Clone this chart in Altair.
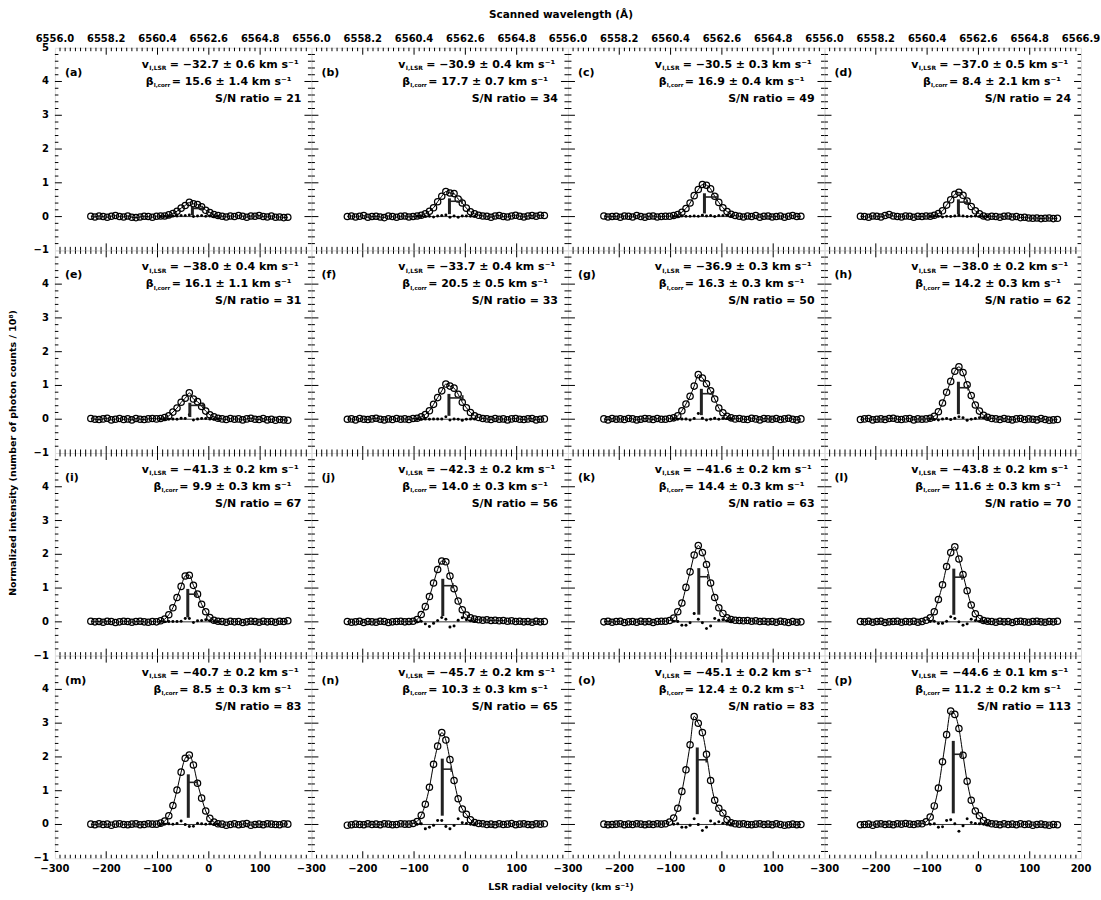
import altair as alt
import pandas as pd

FONT = "DejaVu Sans"

# ---------------- data ----------------
LETTERS = list("abcdefghijklmnop")

VEL = [-230, -222, -214, -206, -198, -190, -182, -174, -166, -158, -150, -142, -134, -126, -118,
       -110, -102, -94, -86, -78, -70, -62, -54, -46, -38, -30, -22, -14, -6, 2, 10, 18, 26, 34,
       42, 50, 58, 66, 74, 82, 90, 98, 106, 114, 122, 130, 138, 146, 154]

I_A = [.01, -.01, .02, 0, -.02, .01, .03, 0, -.01, .02, -.02, -.03, -.01, .01, 0, -.02, .01, .02,
       .02, .05, .09, .16, .25, .33, .42, .38, .36, .29, .19, .12, .06, .03,
       .01, -.01, .02, 0, .03, .01, -.02, .02, .01, .03, 0, -.01, .02, -.02, -.01, -.03, -.02]
I_B = [0, .02, -.01, .01, .03, -.02, 0, .01, -.01, -.03, .02, 0, -.02, .01, .02, -.01, 0,
       .02, .04, .08, .16, .26, .44, .60, .74, .70, .68, .52, .40, .25, .14, .08, .04, .02,
       .01, -.02, .02, .03, 0, -.01, .02, .04, .01, -.01, .02, .03, .01, .04, .03]
I_C = [.02, -.01, 0, .01, -.02, .02, .01, -.01, .03, 0, -.02, .01, .02, -.01, 0, .01,
       .01, .03, .06, .13, .24, .40, .62, .80, .95, .93, .82, .60, .42, .26, .15, .07, .03,
       .01, -.01, .02, 0, .03, -.02, .01, .02, -.01, 0, .02, -.02, .01, .03, 0, .01]
I_D = [.01, 0, -.02, .02, .01, -.01, .03, .06, .02, 0, -.01, .02, .01, -.02, .01, 0, .02,
       .01, .04, .09, .17, .34, .50, .66, .72, .63, .46, .30, .17, .08, .02, -.01,
       .01, 0, -.02, .01, .02, -.01, 0, -.03, -.02, -.04, -.05, -.04, -.06, -.05, -.04, -.06, -.05]
I_E = [.02, 0, -.01, .01, .03, -.02, 0, .02, -.01, .01, -.02, .02, 0, -.01, .01, .02,
       .01, .02, .05, .10, .21, .33, .50, .62, .78, .60, .52, .38, .24, .13, .07, .03, .01,
       -.01, .02, 0, .01, -.02, .01, .03, 0, -.01, .02, -.02, 0, -.03, -.01, -.02, -.03]
I_F = [0, .01, -.02, .02, 0, -.01, .01, .03, 0, -.02, .01, -.01, .02, 0, .01, -.01,
       .02, .03, .07, .14, .25, .44, .64, .84, 1.04, .98, .92, .74, .50, .34, .20, .10, .05, .02,
       .01, -.01, .02, 0, .01, -.02, .01, .02, 0, -.01, .01, .02, -.02, 0, .01]
I_G = [.01, -.02, .02, 0, .01, -.01, .02, .01, -.02, 0, .02, .01, -.01, .02, 0,
       0, .02, .04, .10, .25, .45, .68, .98, 1.32, 1.22, 1.05, .84, .60, .33, .19, .09, .04, .01,
       .02, 0, -.01, .03, .01, -.02, .02, .01, 0, .02, -.01, .01, .03, 0, -.02, .01]
I_H = [-.01, .01, .02, -.02, 0, .01, -.01, .02, .03, 0, -.01, .01, .02, -.02, .01, 0,
       .01, .03, .09, .22, .48, .80, 1.12, 1.42, 1.55, 1.38, 1.02, .70, .42, .24, .12, .06, .02,
       .01, -.01, .02, 0, -.02, .01, .02, -.01, .01, 0, -.02, .02, -.01, -.03, -.02, -.01]
I_I = [.02, 0, .01, -.01, .02, .01, -.02, 0, .02, .01, -.01, .01, .02, 0, -.01, .01,
       0, .03, .08, .21, .42, .72, 1.05, 1.36, 1.38, 1.08, .82, .52, .30, .13, .05, .02,
       .01, -.01, .02, 0, .01, -.02, 0, .02, .01, -.01, .02, 0, .01, -.01, .02, .01, .03]
I_J = [.01, -.01, 0, .02, -.02, .01, 0, -.01, .02, .01, -.02, 0, .01, .02, 0,
       .01, .02, .07, .22, .45, .75, 1.15, 1.55, 1.80, 1.78, 1.36, .98, .62, .36, .20, .12, .08, .06, .05, .06, .04,
       .05, .03, .04, .02, .03, .01, .02, 0, .01, -.01, .02, 0, .01]
I_K = [0, .02, -.01, .01, .02, -.02, 0, .01, -.01, .02, 0, .01, -.02, .01, .02,
       .02, .04, .11, .30, .56, 1.02, 1.48, 1.98, 2.26, 2.05, 1.70, 1.15, .72, .42, .25, .12, .07, .05, .04,
       .03, .04, .02, .03, .01, .02, 0, .01, -.01, .02, 0, -.02, .01, -.01, 0]
I_L = [.01, 0, .02, -.01, .01, .02, -.02, 0, .01, .02, -.01, .01, 0, .02, -.01,
       .01, .05, .12, .30, .66, 1.10, 1.64, 2.05, 2.22, 1.86, 1.40, .92, .50, .24, .10, .04,
       .02, .01, -.01, .02, 0, .01, -.02, .01, .02, 0, -.01, .01, .02, 0, -.01, .01, 0, .02]
I_M = [.01, -.01, .02, 0, .01, -.02, .01, .02, 0, -.01, .01, .02, -.01, 0, .02, .01,
       .01, .04, .10, .26, .56, 1.02, 1.55, 1.96, 2.06, 1.76, 1.22, .78, .40, .18, .07, .02,
       .01, -.02, 0, .02, -.01, .01, .03, -.02, 0, .01, -.01, .02, .01, 0, -.01, .02, .01]
I_N = [-.02, -.01, .01, 0, -.01, .02, 0, .01, -.01, .02, .01, -.01, 0, .02, .01,
       .01, .03, .09, .27, .60, 1.10, 1.78, 2.32, 2.72, 2.50, 1.92, 1.30, .76, .46, .30, .14, .06, .03,
       .02, 0, .01, -.01, .02, 0, .01, .03, -.01, .01, .02, 0, -.01, .02, .01, .02]
I_O = [.01, -.01, 0, .01, .02, -.01, .01, 0, .02, .01, -.01, .01, 0, .02, .01,
       .02, .07, .19, .48, .98, 1.62, 2.36, 3.20, 3.00, 2.72, 2.08, 1.30, .72, .48, .34, .15, .05, .02,
       .01, .02, 0, -.01, .01, .02, 0, .01, -.01, .02, 0, -.02, -.01, .01, -.01, 0]
I_P = [-.01, 0, .01, -.02, .01, .02, 0, .01, -.01, .02, .01, .03, .01, 0, .02,
       .02, .08, .22, .55, 1.08, 1.86, 2.66, 3.36, 3.26, 2.84, 2.05, 1.28, .72, .40, .26, .12, .05,
       .02, .01, -.01, .02, 0, .01, -.01, .02, 0, .01, -.02, 0, .01, -.01, -.02, 0, -.01]
INTENS = [I_A, I_B, I_C, I_D, I_E, I_F, I_G, I_H, I_I, I_J, I_K, I_L, I_M, I_N, I_O, I_P]

RES_VEL = [-94, -86, -78, -70, -62, -54, -46, -38, -30, -22, -14, -6, 2, 10, 18]
R_A = [0, .01, .01, .02, .02, .03, .03, .05, 0, .02, .03, .01, .02, .01, 0]
R_B = [.01, 0, .01, .01, -.01, .02, .03, .05, -.02, .02, -.02, .02, .02, .01, .01]
R_C = [0, .01, .02, .01, .01, .02, .01, .04, .02, .03, 0, .03, .03, .04, .02]
R_D = [0, .01, .01, -.01, .01, 0, .02, .04, .02, 0, .01, .02, .01, -.01, 0]
R_E = [.01, 0, 0, .01, 0, .03, .02, .13, -.02, .01, .02, .02, .01, .01, 0]
R_F = [0, .01, .01, 0, .01, .01, .01, .07, -.02, .01, 0, -.03, 0, .01, .01]
R_G = [.01, 0, .01, .01, -.02, .02, .17, .03, -.02, 0, .03, 0, .02, .02, .01]
R_H = [0, -.01, -.02, .01, .02, -.01, .03, .07, .04, -.03, 0, .02, .04, .04, .02]
R_I = [.01, 0, .01, .01, .01, .02, .10, .10, -.02, .03, .04, .06, .03, .01, 0]
R_J = [0, .02, -.06, -.14, -.04, .04, .13, .08, -.15, -.12, .05, .12, .06, .03, .02]
R_K = [.02, .01, -.10, -.10, -.03, .25, .08, -.03, -.20, -.12, .10, .05, .06, .03, .02]
R_L = [.01, .02, -.05, -.04, .02, .15, .10, 0, -.10, -.06, .08, .04, .02, .01, 0]
R_M = [0, .01, .02, .01, .03, .10, 0, -.06, -.05, .04, .02, .01, .02, .01, 0]
R_N = [.01, .02, -.13, -.08, -.02, .12, .12, -.06, -.13, -.03, .17, .05, .03, .01, .01]
R_O = [.01, .02, -.08, -.08, -.02, .17, 0, -.18, -.08, .10, .02, .08, .04, .01, .01]
R_P = [.01, .02, -.08, -.07, .12, .14, .02, -.20, -.04, .17, .06, .03, .02, .01, 0]
RESID = [R_A, R_B, R_C, R_D, R_E, R_F, R_G, R_H, R_I, R_J, R_K, R_L, R_M, R_N, R_O, R_P]

# line-centre marker: position, peak height of the profile, half-width bar length
CENTER = [-32, -31, -34, -39, -37, -32, -40, -39, -41, -44, -45, -48, -40, -45, -48, -49]
PEAK = [0.38, 0.72, 0.92, 0.68, 0.65, 1.0, 1.2, 1.48, 1.3, 1.7, 2.12, 2.1, 1.98, 2.6, 3.04, 3.3]
HALF = [19.5, 24.6, 25.7, 17, 26, 27, 22, 19, 16, 19.5, 17.5, 16, 17.5, 17.5, 17.5, 15.6]

V_TXT = ["−32.7 ± 0.6", "−30.9 ± 0.4", "−30.5 ± 0.3", "−37.0 ± 0.5",
         "−38.0 ± 0.4", "−33.7 ± 0.4", "−36.9 ± 0.3", "−38.0 ± 0.2",
         "−41.3 ± 0.2", "−42.3 ± 0.2", "−41.6 ± 0.2", "−43.8 ± 0.2",
         "−40.7 ± 0.2", "−45.7 ± 0.2", "−45.1 ± 0.2", "−44.6 ± 0.1"]
B_TXT = ["15.6 ± 1.4", "17.7 ± 0.7", "16.9 ± 0.4", "8.4 ± 2.1",
         "16.1 ± 1.1", "20.5 ± 0.5", "16.3 ± 0.3", "14.2 ± 0.3",
         "9.9 ± 0.3", "14.0 ± 0.3", "14.4 ± 0.3", "11.6 ± 0.3",
         "8.5 ± 0.3", "10.3 ± 0.3", "12.4 ± 0.2", "11.2 ± 0.2"]
SN = [21, 34, 49, 24, 31, 33, 50, 62, 67, 56, 63, 70, 83, 65, 83, 113]

X_LABELS = [-300, -200, -100, 0, 100]
X_LABELS_LAST = [-300, -200, -100, 0, 100, 200]
WAVE_LABELS = ["6556.0", "6558.2", "6560.4", "6562.6", "6564.8", "6566.9"]
Y_LABELS_TOP = [-1, 0, 1, 2, 3, 4, 5]
Y_LABELS = [-1, 0, 1, 2, 3, 4]
X_MAJOR = [-200, -100, 0, 100]
X_MINOR = [v for v in range(-290, 200, 10) if v % 100 != 0]
Y_MAJOR = [0, 1, 2, 3, 4]
Y_MINOR = [round(-1 + 0.2 * k, 1) for k in range(1, 30) if k % 5 != 0]

TITLE_TOP = "Scanned wavelength (Å)"
TITLE_BOTTOM = "LSR radial velocity (km s⁻¹)"
TITLE_LEFT = "Normalized intensity (number of photon counts / 10⁸)"

# ---------------- layout / style ----------------
W, H = 257, 203
MAJ, MIN = 7, 3.5
XS = alt.Scale(domain=[-300, 200], nice=False, zero=False)
YS = alt.Scale(domain=[-1, 5], nice=False, zero=False)
ONE = pd.DataFrame({"k": [0]})
TXT_SIZE = 11
LAB_SIZE = 10


def txt(s, x, y, size=TXT_SIZE, align="left", angle=0):
    return alt.Chart(ONE).mark_text(text=s, align=align, baseline="middle", font=FONT,
                                    fontSize=size, fontWeight="bold", color="black",
                                    angle=angle).encode(x=alt.value(x), y=alt.value(y))


def lab_mark(align, baseline):
    return dict(align=align, baseline=baseline, font=FONT, fontSize=LAB_SIZE,
                fontWeight="bold", color="black")


def xticks(vals, length):
    df = pd.DataFrame({"t": vals})
    base = alt.Chart(df).mark_rule(color="black", strokeWidth=1)
    bot = base.encode(x=alt.X("t:Q", scale=XS, axis=None), y=alt.value(H), y2=alt.value(H - length))
    top = base.encode(x=alt.X("t:Q", scale=XS, axis=None), y=alt.value(0), y2=alt.value(length))
    return [bot, top]


def yticks(vals, length):
    df = pd.DataFrame({"t": vals})
    base = alt.Chart(df).mark_rule(color="black", strokeWidth=1)
    left = base.encode(y=alt.Y("t:Q", scale=YS, axis=None), x=alt.value(0), x2=alt.value(length))
    right = base.encode(y=alt.Y("t:Q", scale=YS, axis=None), x=alt.value(W), x2=alt.value(W - length))
    return [left, right]


def tick_labels(r, c):
    out = []
    xv = X_LABELS_LAST if c == 3 else X_LABELS
    if r == 0:
        df = pd.DataFrame({"t": xv, "lab": WAVE_LABELS[:len(xv)]})
        out.append(alt.Chart(df).mark_text(**lab_mark("center", "middle")).encode(
            x=alt.X("t:Q", scale=XS, axis=None), y=alt.value(-9), text="lab:N"))
    if r == 3:
        df = pd.DataFrame({"t": xv})
        out.append(alt.Chart(df).mark_text(**lab_mark("center", "middle")).encode(
            x=alt.X("t:Q", scale=XS, axis=None), y=alt.value(H + 11), text=alt.Text("t:Q", format="d")))
    if c == 0:
        df = pd.DataFrame({"t": Y_LABELS_TOP if r == 0 else Y_LABELS})
        out.append(alt.Chart(df).mark_text(**lab_mark("right", "middle")).encode(
            y=alt.Y("t:Q", scale=YS, axis=None), x=alt.value(-6), text=alt.Text("t:Q", format="d")))
    # figure-wide titles, hung on the panels that straddle the figure centre
    if r == 0 and c == 1:
        out.append(txt(TITLE_TOP, W - 7, -33, size=10.5, align="center"))
    if r == 3 and c == 1:
        out.append(txt(TITLE_BOTTOM, W - 7, H + 29, size=9.5, align="center"))
    if r == 1 and c == 0:
        out.append(txt(TITLE_LEFT, -42, H, size=9.5, align="center", angle=270))
    return out


def panel(i):
    r, c = divmod(i, 4)
    d = pd.DataFrame({"v": VEL, "I": INTENS[i]})
    enc = dict(x=alt.X("v:Q", scale=XS, axis=None), y=alt.Y("I:Q", scale=YS, axis=None))
    line = alt.Chart(d).mark_line(color="black", strokeWidth=1, interpolate="monotone").encode(**enc)
    pts = alt.Chart(d).mark_point(shape="circle", filled=False, color="black", size=40,
                                  strokeWidth=1.25, opacity=1).encode(**enc)

    rd = pd.DataFrame({"v": RES_VEL, "r": RESID[i]})
    res = alt.Chart(rd).mark_circle(size=9, color="black", opacity=1).encode(
        x=alt.X("v:Q", scale=XS, axis=None), y=alt.Y("r:Q", scale=YS, axis=None))
    zl = pd.DataFrame({"v0": [min(RES_VEL)], "v1": [max(RES_VEL)], "z": [0]})
    zero = alt.Chart(zl).mark_rule(color="black", strokeWidth=0.8).encode(
        x=alt.X("v0:Q", scale=XS, axis=None), x2="v1:Q", y=alt.Y("z:Q", scale=YS, axis=None))

    bd = pd.DataFrame({"c": [CENTER[i]], "amp": [PEAK[i]], "hw": [HALF[i]]})
    bcalc = alt.Chart(bd).transform_calculate(
        y0="0.1*datum.amp", y1="0.75*datum.amp", hy="0.63*datum.amp",
        xe="datum.c + datum.hw", ya="0.63*datum.amp - 0.08", yb="0.63*datum.amp + 0.08")
    vbar = bcalc.mark_rule(color="#222", strokeWidth=3).encode(
        x=alt.X("c:Q", scale=XS, axis=None), y=alt.Y("y0:Q", scale=YS, axis=None), y2="y1:Q")
    hbar = bcalc.mark_rule(color="#222", strokeWidth=1.6).encode(
        x=alt.X("c:Q", scale=XS, axis=None), x2="xe:Q", y=alt.Y("hy:Q", scale=YS, axis=None))
    etick = bcalc.mark_rule(color="#222", strokeWidth=1.6).encode(
        x=alt.X("xe:Q", scale=XS, axis=None), y=alt.Y("ya:Q", scale=YS, axis=None), y2="yb:Q")

    shift = (4 - len(B_TXT[i].split(" ")[0])) * 7.7
    texts = [
        txt("(%s)" % LETTERS[i], 10, 25),
        txt("v", 87, 17),
        txt("I,LSR", 94.5, 20.5, size=6),
        txt("= %s km s⁻¹" % V_TXT[i], 115, 17),
        txt("β", 91 + shift, 34),
        txt("I,corr", 99 + shift, 37.5, size=5.5),
        txt("= %s km s⁻¹" % B_TXT[i], 117 + shift, 34),
        txt("S/N ratio = %d" % SN[i], 247, 51, align="right"),
    ]
    ticks = xticks(X_MAJOR, MAJ) + xticks(X_MINOR, MIN) + yticks(Y_MAJOR, MAJ) + yticks(Y_MINOR, MIN)
    return alt.layer(line, pts, zero, res, vbar, hbar, etick, *ticks, *texts,
                     *tick_labels(r, c)).properties(width=W, height=H)


chart = alt.concat(*[panel(i) for i in range(16)], columns=4, spacing=0, bounds="flush")
chart = chart.configure_view(stroke="black", strokeWidth=1.3).configure(
    padding={"left": 7, "top": 8, "right": 0, "bottom": 0})
chart.save("out.html", embed_options={"renderer": "svg", "actions": False})
